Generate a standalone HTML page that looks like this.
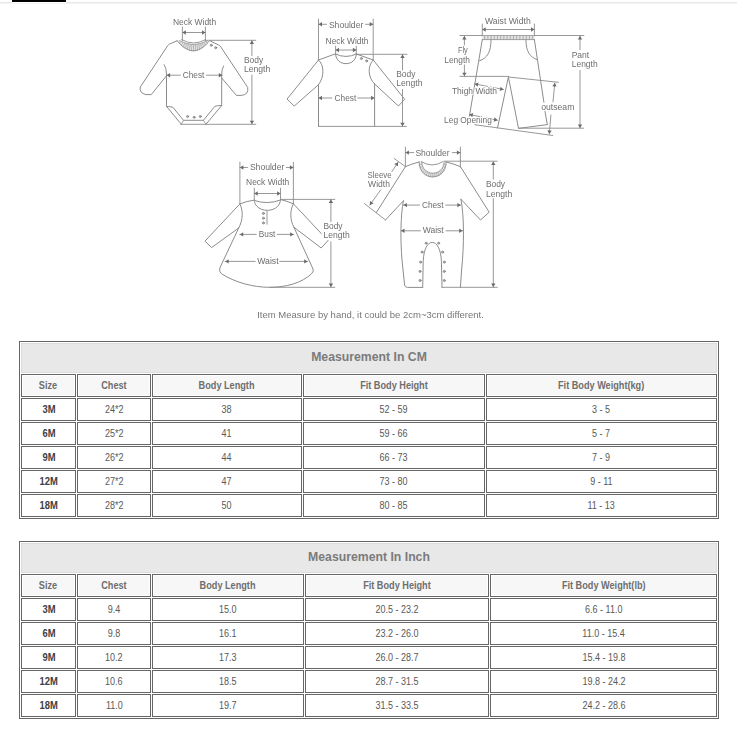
<!DOCTYPE html>
<html><head><meta charset="utf-8"><title>Size Chart</title><style>
*{margin:0;padding:0;box-sizing:border-box}
html,body{width:737px;height:747px;overflow:hidden;background:#fff}
body{position:relative;font-family:"Liberation Sans",sans-serif}
.bar{position:absolute;left:12px;top:0;width:54px;height:2px;background:#000}
.gl{position:absolute;left:0;top:2px;width:737px;height:1px;background:#e8e8e8}
.gl2{position:absolute;left:0;top:3px;width:737px;height:1px;background:#f4f4f4}
.gl3{position:absolute;left:12px;top:2px;width:54px;height:1px;background:#fff}
.tb{position:absolute;left:19px;width:700px;height:178px;border:1px solid #666}
.tt{position:absolute;left:21px;width:696px;height:30px;background:#e8e8e8;border:1px solid #dcdcdc;
 font-weight:bold;font-size:12.25px;color:#7b7b7b;text-align:center;line-height:26px}
.c{position:absolute;height:23px;border:1px solid #666;text-align:center;line-height:21px}
.hd{line-height:21px;background:#f7f7f7;font-weight:bold;font-size:10px;color:#6e6e6e;box-shadow:inset 0 0 0 1px #fff}
.dt{background:#fff;font-size:10px;color:#585858}
.dt.b{color:#404040}
.b{font-weight:bold}
.dt span,.hd span{display:inline-block;transform:scaleX(.9)}
.hd span{transform:scaleX(.915)}
.dt.b span{transform:scaleX(.94)}
svg{position:absolute;left:0;top:0;will-change:transform}
</style></head>
<body>
<div class="bar"></div><div class="gl"></div><div class="gl2"></div><div class="gl3"></div>
<svg width="737" height="340" viewBox="0 0 737 340" font-family="Liberation Sans, sans-serif" stroke-linecap="round" stroke-linejoin="round">
<path d="M182.4,27 L182.4,40.5" stroke="#8c8c8c" stroke-width="0.9" fill="none"/>
<path d="M205.4,27 L205.4,40.5" stroke="#8c8c8c" stroke-width="0.9" fill="none"/>
<path d="M182.4,32.5 L205.4,32.5" stroke="#8c8c8c" stroke-width="0.9" fill="none"/>
<path d="M205.40,32.50 L202.00,34.70 L202.00,30.30Z" fill="#6a6a6a"/>
<path d="M182.40,32.50 L185.80,30.30 L185.80,34.70Z" fill="#6a6a6a"/>
<path d="M205.4,40.3 L255.8,40.3" stroke="#8c8c8c" stroke-width="0.9" fill="none"/>
<path d="M251.9,40.5 L251.9,55.6" stroke="#8c8c8c" stroke-width="0.9" fill="none"/>
<path d="M251.90,40.60 L254.10,44.00 L249.70,44.00Z" fill="#6a6a6a"/>
<path d="M251.9,75 L251.9,124.2" stroke="#8c8c8c" stroke-width="0.9" fill="none"/>
<path d="M251.90,124.10 L249.70,120.70 L254.10,120.70Z" fill="#6a6a6a"/>
<path d="M181,124.3 L255.8,124.3" stroke="#8c8c8c" stroke-width="0.9" fill="none"/>
<path d="M177.1,40.8 Q193.7,61.4 209.6,40.6 L207.5,40.6 Q193.7,48.7 179.5,40.6 Z" fill="#e4e4e4" stroke="none"/>
<path d="M179.17,43.21 L181.27,41.55" stroke="#999" stroke-width="0.6"/>
<path d="M181.24,45.30 L183.04,42.37" stroke="#999" stroke-width="0.6"/>
<path d="M183.30,47.07 L184.81,43.07" stroke="#999" stroke-width="0.6"/>
<path d="M185.36,48.51 L186.57,43.64" stroke="#999" stroke-width="0.6"/>
<path d="M187.41,49.63 L188.34,44.08" stroke="#999" stroke-width="0.6"/>
<path d="M189.45,50.43 L190.09,44.40" stroke="#999" stroke-width="0.6"/>
<path d="M191.49,50.90 L191.85,44.59" stroke="#999" stroke-width="0.6"/>
<path d="M193.53,51.05 L193.60,44.65" stroke="#999" stroke-width="0.6"/>
<path d="M195.55,50.88 L195.35,44.59" stroke="#999" stroke-width="0.6"/>
<path d="M197.58,50.38 L197.09,44.40" stroke="#999" stroke-width="0.6"/>
<path d="M199.59,49.56 L198.84,44.08" stroke="#999" stroke-width="0.6"/>
<path d="M201.61,48.41 L200.57,43.64" stroke="#999" stroke-width="0.6"/>
<path d="M203.61,46.94 L202.31,43.07" stroke="#999" stroke-width="0.6"/>
<path d="M205.61,45.15 L204.04,42.37" stroke="#999" stroke-width="0.6"/>
<path d="M207.61,43.04 L205.77,41.55" stroke="#999" stroke-width="0.6"/>
<path d="M177.1,40.8 Q193.7,61.4 209.6,40.6" stroke="#8c8c8c" stroke-width="0.9" fill="none"/>
<path d="M179.5,40.6 Q193.7,48.7 207.5,40.6" stroke="#8c8c8c" stroke-width="0.7" fill="none"/>
<path d="M181.7,39.6 Q193.7,46.6 205.6,39.6" stroke="#8c8c8c" stroke-width="0.9" fill="none"/>
<path d="M177.1,40.8 L169.5,44 Q168.4,44.6 167.6,45.8 L140.3,87 Q139,93 146,94.6 L151.3,94.6 L166.3,76" stroke="#8c8c8c" stroke-width="1.0" fill="none"/>
<path d="M209.6,40.6 L219.2,45.3 Q220.2,45.9 220.9,47 L247.7,87.4 Q249,95 241,95.4 L236.4,95.4 L221.9,78.2" stroke="#8c8c8c" stroke-width="1.0" fill="none"/>
<path d="M164.2,64.7 Q166.5,68 166.5,74 L166.5,106.4 L181.3,124.3" stroke="#8c8c8c" stroke-width="1.0" fill="none"/>
<path d="M223.6,66 Q221.7,69 221.7,74 L221.7,105.5 L206,124.3" stroke="#8c8c8c" stroke-width="1.0" fill="none"/>
<path d="M166.5,106.4 Q168,106.2 172.9,107.3 L183.5,120.3 L203.4,120.3 L214.8,106.4 Q217,105.4 221.7,105.5" stroke="#8c8c8c" stroke-width="1.0" fill="none"/>
<path d="M181.3,124.3 L183.5,120.3" stroke="#8c8c8c" stroke-width="0.8" fill="none"/>
<path d="M206,124.3 L203.4,120.3" stroke="#8c8c8c" stroke-width="0.8" fill="none"/>
<circle cx="187.6" cy="116.5" r="1.05" fill="#bbb" stroke="#777" stroke-width="0.7"/>
<circle cx="194.1" cy="117.3" r="1.05" fill="#bbb" stroke="#777" stroke-width="0.7"/>
<circle cx="200.3" cy="116.5" r="1.05" fill="#bbb" stroke="#777" stroke-width="0.7"/>
<circle cx="211.3" cy="45.3" r="1.05" fill="#bbb" stroke="#777" stroke-width="0.7"/>
<circle cx="215.7" cy="47.7" r="1.05" fill="#bbb" stroke="#777" stroke-width="0.7"/>
<path d="M166.6,75.2 L180.4,75.2" stroke="#8c8c8c" stroke-width="0.9" fill="none"/>
<path d="M166.70,75.20 L170.10,73.00 L170.10,77.40Z" fill="#6a6a6a"/>
<path d="M206.3,75.2 L222.2,75.2" stroke="#8c8c8c" stroke-width="0.9" fill="none"/>
<path d="M222.20,75.20 L218.80,77.40 L218.80,73.00Z" fill="#6a6a6a"/>
<path d="M318.5,19.1 L318.5,60" stroke="#8c8c8c" stroke-width="0.9" fill="none"/>
<path d="M373.2,19.1 L373.2,60" stroke="#8c8c8c" stroke-width="0.9" fill="none"/>
<path d="M318.5,24.3 L326.5,24.3" stroke="#8c8c8c" stroke-width="0.9" fill="none"/>
<path d="M318.60,24.30 L322.00,22.10 L322.00,26.50Z" fill="#6a6a6a"/>
<path d="M365.6,24.3 L373.1,24.3" stroke="#8c8c8c" stroke-width="0.9" fill="none"/>
<path d="M373.10,24.30 L369.70,26.50 L369.70,22.10Z" fill="#6a6a6a"/>
<path d="M335.6,46.2 L335.6,54" stroke="#8c8c8c" stroke-width="0.9" fill="none"/>
<path d="M356.3,46.2 L356.3,54" stroke="#8c8c8c" stroke-width="0.9" fill="none"/>
<path d="M335.6,50 L356.3,50" stroke="#8c8c8c" stroke-width="0.9" fill="none"/>
<path d="M356.30,50.00 L352.90,52.20 L352.90,47.80Z" fill="#6a6a6a"/>
<path d="M335.60,50.00 L339.00,47.80 L339.00,52.20Z" fill="#6a6a6a"/>
<path d="M356.3,54.3 L407,54.3" stroke="#8c8c8c" stroke-width="0.9" fill="none"/>
<path d="M402.5,54.5 L402.5,70" stroke="#8c8c8c" stroke-width="0.9" fill="none"/>
<path d="M402.50,54.60 L404.70,58.00 L400.30,58.00Z" fill="#6a6a6a"/>
<path d="M402.5,89.5 L402.5,126.3" stroke="#8c8c8c" stroke-width="0.9" fill="none"/>
<path d="M402.50,126.20 L400.30,122.80 L404.70,122.80Z" fill="#6a6a6a"/>
<path d="M318.5,126.4 L406.5,126.4" stroke="#8c8c8c" stroke-width="0.9" fill="none"/>
<path d="M318.5,60 L335.6,53.8" stroke="#8c8c8c" stroke-width="1.0" fill="none"/>
<path d="M356.3,54 L373.2,60" stroke="#8c8c8c" stroke-width="1.0" fill="none"/>
<path d="M335.6,54 C335.8,67 356.1,67 356.3,54" stroke="#8c8c8c" stroke-width="1.0" fill="none"/>
<path d="M335.6,54 Q346,59 356.3,54" stroke="#8c8c8c" stroke-width="1.0" fill="none"/>
<circle cx="361.4" cy="58.5" r="1.05" fill="#bbb" stroke="#777" stroke-width="0.7"/>
<circle cx="366.6" cy="60.9" r="1.05" fill="#bbb" stroke="#777" stroke-width="0.7"/>
<path d="M318.5,60 L287.1,99 L294.2,106.1 L318.5,84.7" stroke="#8c8c8c" stroke-width="1.0" fill="none"/>
<path d="M318.5,60 C324.5,65 324.5,77 318.5,84.7" stroke="#8c8c8c" stroke-width="1.0" fill="none"/>
<path d="M373.2,60 L404.7,99.3 L398.4,106 L374.6,84" stroke="#8c8c8c" stroke-width="1.0" fill="none"/>
<path d="M373.2,60 C367.5,66 367.5,77 374.6,84" stroke="#8c8c8c" stroke-width="1.0" fill="none"/>
<path d="M318.5,84.7 L318.5,126.4" stroke="#8c8c8c" stroke-width="1.0" fill="none"/>
<path d="M374.6,84 L374.6,126.4" stroke="#8c8c8c" stroke-width="1.0" fill="none"/>
<path d="M318.5,98 L331.8,98" stroke="#8c8c8c" stroke-width="0.9" fill="none"/>
<path d="M318.60,98.00 L322.00,95.80 L322.00,100.20Z" fill="#6a6a6a"/>
<path d="M357.7,98 L373.5,98" stroke="#8c8c8c" stroke-width="0.9" fill="none"/>
<path d="M374.50,98.00 L371.10,100.20 L371.10,95.80Z" fill="#6a6a6a"/>
<path d="M482.3,24 L482.3,36" stroke="#8c8c8c" stroke-width="0.9" fill="none"/>
<path d="M534.4,24 L534.4,36" stroke="#8c8c8c" stroke-width="0.9" fill="none"/>
<path d="M482.3,29.5 L534.4,29.5" stroke="#8c8c8c" stroke-width="0.9" fill="none"/>
<path d="M534.40,29.50 L531.00,31.70 L531.00,27.30Z" fill="#6a6a6a"/>
<path d="M482.30,29.50 L485.70,27.30 L485.70,31.70Z" fill="#6a6a6a"/>
<path d="M460,35.5 L583.9,35.5" stroke="#8c8c8c" stroke-width="0.9" fill="none"/>
<rect x="482.3" y="35.8" width="52.1" height="3.8" fill="#e2e2e2"/>
<rect x="484.20" y="35.8" width="0.9" height="3.8" fill="#a8a8a8"/>
<rect x="487.40" y="35.8" width="0.9" height="3.8" fill="#a8a8a8"/>
<rect x="490.60" y="35.8" width="0.9" height="3.8" fill="#a8a8a8"/>
<rect x="493.80" y="35.8" width="0.9" height="3.8" fill="#a8a8a8"/>
<rect x="497.00" y="35.8" width="0.9" height="3.8" fill="#a8a8a8"/>
<rect x="500.20" y="35.8" width="0.9" height="3.8" fill="#a8a8a8"/>
<rect x="503.40" y="35.8" width="0.9" height="3.8" fill="#a8a8a8"/>
<rect x="506.60" y="35.8" width="0.9" height="3.8" fill="#a8a8a8"/>
<rect x="509.80" y="35.8" width="0.9" height="3.8" fill="#a8a8a8"/>
<rect x="513.00" y="35.8" width="0.9" height="3.8" fill="#a8a8a8"/>
<rect x="516.20" y="35.8" width="0.9" height="3.8" fill="#a8a8a8"/>
<rect x="519.40" y="35.8" width="0.9" height="3.8" fill="#a8a8a8"/>
<rect x="522.60" y="35.8" width="0.9" height="3.8" fill="#a8a8a8"/>
<rect x="525.80" y="35.8" width="0.9" height="3.8" fill="#a8a8a8"/>
<rect x="529.00" y="35.8" width="0.9" height="3.8" fill="#a8a8a8"/>
<rect x="532.20" y="35.8" width="0.9" height="3.8" fill="#a8a8a8"/>
<path d="M482.3,39.6 L534.4,39.6" stroke="#8c8c8c" stroke-width="0.8" fill="none"/>
<path d="M464.4,36 L464.4,45" stroke="#8c8c8c" stroke-width="0.9" fill="none"/>
<path d="M464.40,36.10 L466.60,39.50 L462.20,39.50Z" fill="#6a6a6a"/>
<path d="M464.4,65 L464.4,76.2" stroke="#8c8c8c" stroke-width="0.9" fill="none"/>
<path d="M464.40,76.10 L462.20,72.70 L466.60,72.70Z" fill="#6a6a6a"/>
<path d="M460,76.4 L508.4,76.4" stroke="#8c8c8c" stroke-width="0.9" fill="none"/>
<path d="M482.3,39.6 L469.4,116.2" stroke="#8c8c8c" stroke-width="1.0" fill="none"/>
<path d="M491,39.6 C491,52 487.5,58 479.5,60.8" stroke="#8c8c8c" stroke-width="1.0" fill="none"/>
<path d="M525.9,39.6 C526,52 530,57 537,59.6" stroke="#8c8c8c" stroke-width="1.0" fill="none"/>
<path d="M534.4,39.6 L543.9,102.3" stroke="#8c8c8c" stroke-width="1.0" fill="none"/>
<path d="M545,111.4 L547.3,124.5" stroke="#8c8c8c" stroke-width="1.0" fill="none"/>
<path d="M508.4,77 L558.4,82.3" stroke="#8c8c8c" stroke-width="0.9" fill="none"/>
<path d="M508.4,77 L497.5,128" stroke="#8c8c8c" stroke-width="1.0" fill="none"/>
<path d="M508.4,77 L518.5,128.4 L547.3,124.6" stroke="#8c8c8c" stroke-width="1.0" fill="none"/>
<path d="M474.7,124.7 L552.7,135.5" stroke="#8c8c8c" stroke-width="0.9" fill="none"/>
<path d="M518.5,128.2 L583.5,128.2" stroke="#8c8c8c" stroke-width="0.9" fill="none"/>
<path d="M580,36 L580,49.7" stroke="#8c8c8c" stroke-width="0.9" fill="none"/>
<path d="M580.00,36.10 L582.20,39.50 L577.80,39.50Z" fill="#6a6a6a"/>
<path d="M580,70.4 L580,128" stroke="#8c8c8c" stroke-width="0.9" fill="none"/>
<path d="M580.00,127.90 L577.80,124.50 L582.20,124.50Z" fill="#6a6a6a"/>
<path d="M554.8,83 L553,101.8" stroke="#8c8c8c" stroke-width="0.9" fill="none"/>
<path d="M554.80,83.00 L556.67,86.59 L552.29,86.17Z" fill="#6a6a6a"/>
<path d="M550.9,115.1 L549.3,133.9" stroke="#8c8c8c" stroke-width="0.9" fill="none"/>
<path d="M549.30,133.90 L547.40,130.33 L551.78,130.70Z" fill="#6a6a6a"/>
<path d="M474.7,83.9 L503.5,89.5" stroke="#8c8c8c" stroke-width="0.9" fill="none"/>
<path d="M474.70,83.90 L478.46,82.39 L477.62,86.71Z" fill="#6a6a6a"/>
<path d="M503.50,89.50 L499.74,91.01 L500.58,86.69Z" fill="#6a6a6a"/>
<path d="M469.4,114.5 L497.5,120.2" stroke="#8c8c8c" stroke-width="0.9" fill="none"/>
<path d="M469.40,114.50 L473.17,113.02 L472.29,117.33Z" fill="#6a6a6a"/>
<path d="M497.50,120.20 L493.73,121.68 L494.61,117.37Z" fill="#6a6a6a"/>
<path d="M239.9,162.1 L239.9,203.9" stroke="#8c8c8c" stroke-width="0.9" fill="none"/>
<path d="M293.4,162.3 L293.4,203.8" stroke="#8c8c8c" stroke-width="0.9" fill="none"/>
<path d="M239.9,167.5 L247.5,167.5" stroke="#8c8c8c" stroke-width="0.9" fill="none"/>
<path d="M240.00,167.50 L243.40,165.30 L243.40,169.70Z" fill="#6a6a6a"/>
<path d="M286.4,167.5 L293.3,167.5" stroke="#8c8c8c" stroke-width="0.9" fill="none"/>
<path d="M293.30,167.50 L289.90,169.70 L289.90,165.30Z" fill="#6a6a6a"/>
<path d="M254.3,188.2 L254.3,200" stroke="#8c8c8c" stroke-width="0.9" fill="none"/>
<path d="M280.5,188.2 L280.5,199.5" stroke="#8c8c8c" stroke-width="0.9" fill="none"/>
<path d="M254.3,193.5 L280.5,193.5" stroke="#8c8c8c" stroke-width="0.9" fill="none"/>
<path d="M280.50,193.50 L277.10,195.70 L277.10,191.30Z" fill="#6a6a6a"/>
<path d="M254.30,193.50 L257.70,191.30 L257.70,195.70Z" fill="#6a6a6a"/>
<path d="M280.5,199.4 L334.8,199.4" stroke="#8c8c8c" stroke-width="0.9" fill="none"/>
<path d="M330.9,199.5 L330.9,221.6" stroke="#8c8c8c" stroke-width="0.9" fill="none"/>
<path d="M330.90,199.60 L333.10,203.00 L328.70,203.00Z" fill="#6a6a6a"/>
<path d="M330.9,241.9 L330.9,287.1" stroke="#8c8c8c" stroke-width="0.9" fill="none"/>
<path d="M330.90,287.00 L328.70,283.60 L333.10,283.60Z" fill="#6a6a6a"/>
<path d="M270,287.3 L334.8,287.3" stroke="#8c8c8c" stroke-width="0.9" fill="none"/>
<path d="M239.9,203.9 Q247,201 254.3,200.1" stroke="#8c8c8c" stroke-width="1.0" fill="none"/>
<path d="M280.5,199.5 Q287,201 293.4,203.8" stroke="#8c8c8c" stroke-width="1.0" fill="none"/>
<path d="M254.3,200 C254.5,214 280.3,214 280.5,199.5" stroke="#8c8c8c" stroke-width="1.0" fill="none"/>
<path d="M254.3,200.5 Q267.4,205 280.5,200" stroke="#8c8c8c" stroke-width="1.0" fill="none"/>
<path d="M267,211 L267,224.2" stroke="#8c8c8c" stroke-width="0.9" fill="none"/>
<circle cx="263.4" cy="213.4" r="1.05" fill="#bbb" stroke="#777" stroke-width="0.7"/>
<circle cx="263.4" cy="218.2" r="1.05" fill="#bbb" stroke="#777" stroke-width="0.7"/>
<circle cx="263.4" cy="222.9" r="1.05" fill="#bbb" stroke="#777" stroke-width="0.7"/>
<path d="M239.9,203.9 L205,241.1 L211.5,247.6 L238.7,228" stroke="#8c8c8c" stroke-width="1.0" fill="none"/>
<path d="M239.9,203.9 C243.2,210 243.2,220 238.7,228" stroke="#8c8c8c" stroke-width="1.0" fill="none"/>
<path d="M293.4,203.8 L327.9,240.6 L321.2,248 L293.9,227.2" stroke="#8c8c8c" stroke-width="1.0" fill="none"/>
<path d="M293.4,203.8 C289.8,210 289.8,220 293.9,227.2" stroke="#8c8c8c" stroke-width="1.0" fill="none"/>
<path d="M238.7,228 L219.8,268 Q218.8,271.5 221.5,273.8 C236,283 254,287.3 270,287.3 C286,287.3 302,283 311.8,273.5 Q314,271 313,269 L293.9,227.2" stroke="#8c8c8c" stroke-width="1.0" fill="none"/>
<path d="M239.7,234.4 L256.2,234.4" stroke="#8c8c8c" stroke-width="0.9" fill="none"/>
<path d="M239.80,234.40 L243.20,232.20 L243.20,236.60Z" fill="#6a6a6a"/>
<path d="M277.2,234.4 L293.7,234.4" stroke="#8c8c8c" stroke-width="0.9" fill="none"/>
<path d="M293.60,234.40 L290.20,236.60 L290.20,232.20Z" fill="#6a6a6a"/>
<path d="M225.1,261.4 L255.2,261.4" stroke="#8c8c8c" stroke-width="0.9" fill="none"/>
<path d="M225.20,261.40 L228.60,259.20 L228.60,263.60Z" fill="#6a6a6a"/>
<path d="M279.7,261.4 L307.7,261.4" stroke="#8c8c8c" stroke-width="0.9" fill="none"/>
<path d="M307.60,261.40 L304.20,263.60 L304.20,259.20Z" fill="#6a6a6a"/>
<path d="M405.4,147.1 L405.4,166.6" stroke="#8c8c8c" stroke-width="0.9" fill="none"/>
<path d="M460.4,147.1 L460.4,167.1" stroke="#8c8c8c" stroke-width="0.9" fill="none"/>
<path d="M405.4,152.6 L413.7,152.6" stroke="#8c8c8c" stroke-width="0.9" fill="none"/>
<path d="M405.50,152.60 L408.90,150.40 L408.90,154.80Z" fill="#6a6a6a"/>
<path d="M452.3,152.6 L460.3,152.6" stroke="#8c8c8c" stroke-width="0.9" fill="none"/>
<path d="M460.30,152.60 L456.90,154.80 L456.90,150.40Z" fill="#6a6a6a"/>
<path d="M444.1,161.2 L497.3,161.2" stroke="#8c8c8c" stroke-width="0.9" fill="none"/>
<path d="M493.3,161.5 L493.3,179.1" stroke="#8c8c8c" stroke-width="0.9" fill="none"/>
<path d="M493.30,161.60 L495.50,165.00 L491.10,165.00Z" fill="#6a6a6a"/>
<path d="M493.3,198.6 L493.3,287.1" stroke="#8c8c8c" stroke-width="0.9" fill="none"/>
<path d="M493.30,287.00 L491.10,283.60 L495.50,283.60Z" fill="#6a6a6a"/>
<path d="M442,287.3 L497.3,287.3" stroke="#8c8c8c" stroke-width="0.9" fill="none"/>
<path d="M419.1,162 C419.3,182 446,182 446.2,162 L444,162 C443.8,177 422,177 421.8,162 Z" fill="#e4e4e4" stroke="none"/>
<path d="M419.37,165.15 L422.03,164.36" stroke="#999" stroke-width="0.6"/>
<path d="M420.08,167.93 L422.61,166.44" stroke="#999" stroke-width="0.6"/>
<path d="M421.16,170.33 L423.50,168.25" stroke="#999" stroke-width="0.6"/>
<path d="M422.58,172.37 L424.66,169.78" stroke="#999" stroke-width="0.6"/>
<path d="M424.26,174.04 L426.04,171.03" stroke="#999" stroke-width="0.6"/>
<path d="M426.17,175.33 L427.60,172.00" stroke="#999" stroke-width="0.6"/>
<path d="M428.24,176.26 L429.29,172.69" stroke="#999" stroke-width="0.6"/>
<path d="M430.42,176.81 L431.07,173.11" stroke="#999" stroke-width="0.6"/>
<path d="M432.65,177.00 L432.90,173.25" stroke="#999" stroke-width="0.6"/>
<path d="M434.88,176.81 L434.73,173.11" stroke="#999" stroke-width="0.6"/>
<path d="M437.06,176.26 L436.51,172.69" stroke="#999" stroke-width="0.6"/>
<path d="M439.13,175.33 L438.20,172.00" stroke="#999" stroke-width="0.6"/>
<path d="M441.04,174.04 L439.76,171.03" stroke="#999" stroke-width="0.6"/>
<path d="M442.72,172.37 L441.14,169.78" stroke="#999" stroke-width="0.6"/>
<path d="M444.14,170.33 L442.30,168.25" stroke="#999" stroke-width="0.6"/>
<path d="M445.22,167.93 L443.19,166.44" stroke="#999" stroke-width="0.6"/>
<path d="M445.93,165.15 L443.77,164.36" stroke="#999" stroke-width="0.6"/>
<path d="M419.1,162 C419.3,182 446,182 446.2,162" stroke="#8c8c8c" stroke-width="0.9" fill="none"/>
<path d="M421.8,162 C422,177 443.8,177 444,162" stroke="#8c8c8c" stroke-width="0.7" fill="none"/>
<path d="M421.2,161.6 Q432.1,168.5 442.9,161.6" stroke="#8c8c8c" stroke-width="0.9" fill="none"/>
<path d="M405.4,166.6 Q412,163.8 419.1,162" stroke="#8c8c8c" stroke-width="1.0" fill="none"/>
<path d="M446.2,162 Q453,163.5 460.4,166.6" stroke="#8c8c8c" stroke-width="1.0" fill="none"/>
<path d="M405.4,166.6 L376.3,212.6" stroke="#8c8c8c" stroke-width="1.0" fill="none"/>
<path d="M364.3,203.5 L385.5,220" stroke="#8c8c8c" stroke-width="0.9" fill="none"/>
<path d="M385.5,220 L403.4,200.8" stroke="#8c8c8c" stroke-width="1.0" fill="none"/>
<path d="M394.2,158.5 L405.4,166.6" stroke="#8c8c8c" stroke-width="0.9" fill="none"/>
<path d="M398,162.3 L392,171.5" stroke="#8c8c8c" stroke-width="0.9" fill="none"/>
<path d="M398.00,162.30 L397.99,166.35 L394.30,163.95Z" fill="#6a6a6a"/>
<path d="M380.6,190 L369.8,205.1" stroke="#8c8c8c" stroke-width="0.9" fill="none"/>
<path d="M369.80,205.10 L369.99,201.05 L373.57,203.61Z" fill="#6a6a6a"/>
<path d="M460.4,166.6 L489.2,212.2 L480.5,220 L460.9,199.2" stroke="#8c8c8c" stroke-width="1.0" fill="none"/>
<path d="M403.4,200.8 C400.5,215 400.3,240 402,260 L404.6,285 Q405,287.4 407.5,287.4 L422.7,287.4" stroke="#8c8c8c" stroke-width="1.0" fill="none"/>
<path d="M460.9,199.2 C464.2,215 464.2,245 461.6,270 L460.4,287.3" stroke="#8c8c8c" stroke-width="1.0" fill="none"/>
<path d="M422.7,287.4 L423.2,261.2 C423.8,249 427.5,242.4 432.3,242.4 C437,242.4 440.8,249 441.4,261.2 L442,287.4" stroke="#8c8c8c" stroke-width="1.0" fill="none"/>
<circle cx="426.1" cy="243.2" r="1.05" fill="#bbb" stroke="#777" stroke-width="0.7"/>
<circle cx="422.1" cy="252.1" r="1.05" fill="#bbb" stroke="#777" stroke-width="0.7"/>
<circle cx="420.6" cy="262.1" r="1.05" fill="#bbb" stroke="#777" stroke-width="0.7"/>
<circle cx="420" cy="271.4" r="1.05" fill="#bbb" stroke="#777" stroke-width="0.7"/>
<circle cx="420" cy="280.5" r="1.05" fill="#bbb" stroke="#777" stroke-width="0.7"/>
<circle cx="438.6" cy="243.2" r="1.05" fill="#bbb" stroke="#777" stroke-width="0.7"/>
<circle cx="442.6" cy="252.1" r="1.05" fill="#bbb" stroke="#777" stroke-width="0.7"/>
<circle cx="444.3" cy="262.1" r="1.05" fill="#bbb" stroke="#777" stroke-width="0.7"/>
<circle cx="444.3" cy="271.4" r="1.05" fill="#bbb" stroke="#777" stroke-width="0.7"/>
<circle cx="444.3" cy="280.5" r="1.05" fill="#bbb" stroke="#777" stroke-width="0.7"/>
<path d="M403.4,205.1 L419.7,205.1" stroke="#8c8c8c" stroke-width="0.9" fill="none"/>
<path d="M403.50,205.10 L406.90,202.90 L406.90,207.30Z" fill="#6a6a6a"/>
<path d="M445.7,205.1 L460.9,205.1" stroke="#8c8c8c" stroke-width="0.9" fill="none"/>
<path d="M460.80,205.10 L457.40,207.30 L457.40,202.90Z" fill="#6a6a6a"/>
<path d="M401,230.8 L420.4,230.8" stroke="#8c8c8c" stroke-width="0.9" fill="none"/>
<path d="M401.10,230.80 L404.50,228.60 L404.50,233.00Z" fill="#6a6a6a"/>
<path d="M446,230.8 L462.7,230.8" stroke="#8c8c8c" stroke-width="0.9" fill="none"/>
<path d="M462.60,230.80 L459.20,233.00 L459.20,228.60Z" fill="#6a6a6a"/>
<g stroke="#fff" stroke-width="2" paint-order="stroke" opacity="0.999">
<rect x="321.6" y="222" width="28" height="18" fill="#fff" stroke="none"/>
<text x="172.9" y="24.8" textLength="43.3" lengthAdjust="spacingAndGlyphs" font-size="8.7" fill="#6e6e6e">Neck Width</text>
<text x="244" y="62.7" textLength="19.2" lengthAdjust="spacingAndGlyphs" font-size="8.7" fill="#6e6e6e">Body</text>
<text x="244" y="72" textLength="26.3" lengthAdjust="spacingAndGlyphs" font-size="8.7" fill="#6e6e6e">Length</text>
<text x="182.8" y="77.8" textLength="21.6" lengthAdjust="spacingAndGlyphs" font-size="8.7" fill="#6e6e6e">Chest</text>
<text x="328.9" y="27.7" textLength="34.4" lengthAdjust="spacingAndGlyphs" font-size="8.7" fill="#6e6e6e">Shoulder</text>
<text x="325.6" y="44.1" textLength="42.9" lengthAdjust="spacingAndGlyphs" font-size="8.7" fill="#6e6e6e">Neck Width</text>
<text x="396.2" y="77.3" textLength="19.2" lengthAdjust="spacingAndGlyphs" font-size="8.7" fill="#6e6e6e">Body</text>
<text x="396.2" y="85.9" textLength="26.3" lengthAdjust="spacingAndGlyphs" font-size="8.7" fill="#6e6e6e">Length</text>
<text x="334.6" y="100.6" textLength="21.6" lengthAdjust="spacingAndGlyphs" font-size="8.7" fill="#6e6e6e">Chest</text>
<text x="485" y="23.8" textLength="45.8" lengthAdjust="spacingAndGlyphs" font-size="8.7" fill="#6e6e6e">Waist Width</text>
<text x="457.9" y="52.9" textLength="9.8" lengthAdjust="spacingAndGlyphs" font-size="8.7" fill="#6e6e6e">Fly</text>
<text x="444.3" y="62.7" textLength="25.6" lengthAdjust="spacingAndGlyphs" font-size="8.7" fill="#6e6e6e">Length</text>
<text x="571.7" y="57.6" textLength="17.5" lengthAdjust="spacingAndGlyphs" font-size="8.7" fill="#6e6e6e">Pant</text>
<text x="571.7" y="66.8" textLength="26" lengthAdjust="spacingAndGlyphs" font-size="8.7" fill="#6e6e6e">Length</text>
<text x="541.2" y="109.5" textLength="33.2" lengthAdjust="spacingAndGlyphs" font-size="8.7" fill="#6e6e6e">outseam</text>
<text x="451.9" y="93.9" textLength="45.1" lengthAdjust="spacingAndGlyphs" font-size="8.7" fill="#6e6e6e">Thigh Width</text>
<text x="444.1" y="123" textLength="47.8" lengthAdjust="spacingAndGlyphs" font-size="8.7" fill="#6e6e6e">Leg Opening</text>
<text x="249.9" y="170.2" textLength="34.4" lengthAdjust="spacingAndGlyphs" font-size="8.7" fill="#6e6e6e">Shoulder</text>
<text x="246.1" y="184.6" textLength="43.1" lengthAdjust="spacingAndGlyphs" font-size="8.7" fill="#6e6e6e">Neck Width</text>
<text x="323.4" y="229.2" textLength="19.2" lengthAdjust="spacingAndGlyphs" font-size="8.7" fill="#6e6e6e">Body</text>
<text x="323.4" y="237.6" textLength="26.3" lengthAdjust="spacingAndGlyphs" font-size="8.7" fill="#6e6e6e">Length</text>
<text x="258.8" y="237" textLength="16.6" lengthAdjust="spacingAndGlyphs" font-size="8.7" fill="#6e6e6e">Bust</text>
<text x="257.2" y="264" textLength="21.4" lengthAdjust="spacingAndGlyphs" font-size="8.7" fill="#6e6e6e">Waist</text>
<text x="415.4" y="155.7" textLength="34.2" lengthAdjust="spacingAndGlyphs" font-size="8.7" fill="#6e6e6e">Shoulder</text>
<text x="485.9" y="186.9" textLength="19.2" lengthAdjust="spacingAndGlyphs" font-size="8.7" fill="#6e6e6e">Body</text>
<text x="485.9" y="196.5" textLength="26.3" lengthAdjust="spacingAndGlyphs" font-size="8.7" fill="#6e6e6e">Length</text>
<text x="367.6" y="178" textLength="23.9" lengthAdjust="spacingAndGlyphs" font-size="8.7" fill="#6e6e6e">Sleeve</text>
<text x="368.1" y="186.9" textLength="21.8" lengthAdjust="spacingAndGlyphs" font-size="8.7" fill="#6e6e6e">Width</text>
<text x="421.9" y="207.7" textLength="21.7" lengthAdjust="spacingAndGlyphs" font-size="8.7" fill="#6e6e6e">Chest</text>
<text x="422.7" y="233.4" textLength="21" lengthAdjust="spacingAndGlyphs" font-size="8.7" fill="#6e6e6e">Waist</text>
<text x="257.2" y="318" textLength="226.7" lengthAdjust="spacingAndGlyphs" font-size="8.2" fill="#777">Item Measure by hand, it could be 2cm~3cm different.</text>
</g></svg>
<div class="tb" style="top:341px"></div>
<div class="tt" style="top:343px">Measurement In CM</div>
<div class="c hd" style="left:21px;top:374px;width:55px"><span>Size</span></div>
<div class="c hd" style="left:77px;top:374px;width:74px"><span>Chest</span></div>
<div class="c hd" style="left:152px;top:374px;width:150px"><span>Body Length</span></div>
<div class="c hd" style="left:303px;top:374px;width:182px"><span>Fit Body Height</span></div>
<div class="c hd" style="left:486px;top:374px;width:231px"><span>Fit Body Weight(kg)</span></div>
<div class="c dt b" style="left:21px;top:398px;width:55px"><span>3M</span></div>
<div class="c dt" style="left:77px;top:398px;width:74px"><span>24*2</span></div>
<div class="c dt" style="left:152px;top:398px;width:150px"><span>38</span></div>
<div class="c dt" style="left:303px;top:398px;width:182px"><span>52 - 59</span></div>
<div class="c dt" style="left:486px;top:398px;width:231px"><span>3 - 5</span></div>
<div class="c dt b" style="left:21px;top:422px;width:55px"><span>6M</span></div>
<div class="c dt" style="left:77px;top:422px;width:74px"><span>25*2</span></div>
<div class="c dt" style="left:152px;top:422px;width:150px"><span>41</span></div>
<div class="c dt" style="left:303px;top:422px;width:182px"><span>59 - 66</span></div>
<div class="c dt" style="left:486px;top:422px;width:231px"><span>5 - 7</span></div>
<div class="c dt b" style="left:21px;top:446px;width:55px"><span>9M</span></div>
<div class="c dt" style="left:77px;top:446px;width:74px"><span>26*2</span></div>
<div class="c dt" style="left:152px;top:446px;width:150px"><span>44</span></div>
<div class="c dt" style="left:303px;top:446px;width:182px"><span>66 - 73</span></div>
<div class="c dt" style="left:486px;top:446px;width:231px"><span>7 - 9</span></div>
<div class="c dt b" style="left:21px;top:470px;width:55px"><span>12M</span></div>
<div class="c dt" style="left:77px;top:470px;width:74px"><span>27*2</span></div>
<div class="c dt" style="left:152px;top:470px;width:150px"><span>47</span></div>
<div class="c dt" style="left:303px;top:470px;width:182px"><span>73 - 80</span></div>
<div class="c dt" style="left:486px;top:470px;width:231px"><span>9 - 11</span></div>
<div class="c dt b" style="left:21px;top:494px;width:55px"><span>18M</span></div>
<div class="c dt" style="left:77px;top:494px;width:74px"><span>28*2</span></div>
<div class="c dt" style="left:152px;top:494px;width:150px"><span>50</span></div>
<div class="c dt" style="left:303px;top:494px;width:182px"><span>80 - 85</span></div>
<div class="c dt" style="left:486px;top:494px;width:231px"><span>11 - 13</span></div>
<div class="tb" style="top:541px"></div>
<div class="tt" style="top:543px">Measurement In Inch</div>
<div class="c hd" style="left:21px;top:574px;width:55px"><span>Size</span></div>
<div class="c hd" style="left:77px;top:574px;width:74px"><span>Chest</span></div>
<div class="c hd" style="left:152px;top:574px;width:152px"><span>Body Length</span></div>
<div class="c hd" style="left:305px;top:574px;width:184px"><span>Fit Body Height</span></div>
<div class="c hd" style="left:490px;top:574px;width:227px"><span>Fit Body Weight(lb)</span></div>
<div class="c dt b" style="left:21px;top:598px;width:55px"><span>3M</span></div>
<div class="c dt" style="left:77px;top:598px;width:74px"><span>9.4</span></div>
<div class="c dt" style="left:152px;top:598px;width:152px"><span>15.0</span></div>
<div class="c dt" style="left:305px;top:598px;width:184px"><span>20.5 - 23.2</span></div>
<div class="c dt" style="left:490px;top:598px;width:227px"><span>6.6 - 11.0</span></div>
<div class="c dt b" style="left:21px;top:622px;width:55px"><span>6M</span></div>
<div class="c dt" style="left:77px;top:622px;width:74px"><span>9.8</span></div>
<div class="c dt" style="left:152px;top:622px;width:152px"><span>16.1</span></div>
<div class="c dt" style="left:305px;top:622px;width:184px"><span>23.2 - 26.0</span></div>
<div class="c dt" style="left:490px;top:622px;width:227px"><span>11.0 - 15.4</span></div>
<div class="c dt b" style="left:21px;top:646px;width:55px"><span>9M</span></div>
<div class="c dt" style="left:77px;top:646px;width:74px"><span>10.2</span></div>
<div class="c dt" style="left:152px;top:646px;width:152px"><span>17.3</span></div>
<div class="c dt" style="left:305px;top:646px;width:184px"><span>26.0 - 28.7</span></div>
<div class="c dt" style="left:490px;top:646px;width:227px"><span>15.4 - 19.8</span></div>
<div class="c dt b" style="left:21px;top:670px;width:55px"><span>12M</span></div>
<div class="c dt" style="left:77px;top:670px;width:74px"><span>10.6</span></div>
<div class="c dt" style="left:152px;top:670px;width:152px"><span>18.5</span></div>
<div class="c dt" style="left:305px;top:670px;width:184px"><span>28.7 - 31.5</span></div>
<div class="c dt" style="left:490px;top:670px;width:227px"><span>19.8 - 24.2</span></div>
<div class="c dt b" style="left:21px;top:694px;width:55px"><span>18M</span></div>
<div class="c dt" style="left:77px;top:694px;width:74px"><span>11.0</span></div>
<div class="c dt" style="left:152px;top:694px;width:152px"><span>19.7</span></div>
<div class="c dt" style="left:305px;top:694px;width:184px"><span>31.5 - 33.5</span></div>
<div class="c dt" style="left:490px;top:694px;width:227px"><span>24.2 - 28.6</span></div>
</body></html>
